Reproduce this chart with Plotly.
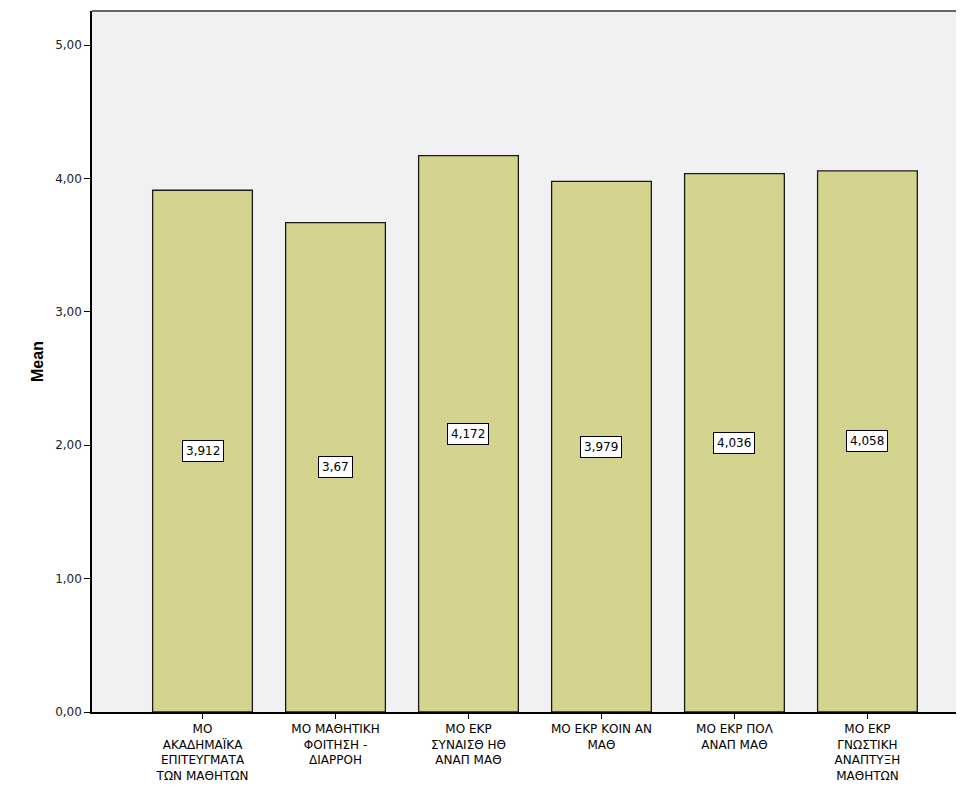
import plotly.graph_objects as go

categories = [
    "ΜΟ<br>ΑΚΑΔΗΜΑΪΚΑ<br>ΕΠΙΤΕΥΓΜΑΤΑ<br>ΤΩΝ ΜΑΘΗΤΩΝ",
    "ΜΟ ΜΑΘΗΤΙΚΗ<br>ΦΟΙΤΗΣΗ -<br>ΔΙΑΡΡΟΗ",
    "ΜΟ ΕΚΡ<br>ΣΥΝΑΙΣΘ ΗΘ<br>ΑΝΑΠ ΜΑΘ",
    "ΜΟ ΕΚΡ ΚΟΙΝ ΑΝ<br>ΜΑΘ",
    "ΜΟ ΕΚΡ ΠΟΛ<br>ΑΝΑΠ ΜΑΘ",
    "ΜΟ ΕΚΡ<br>ΓΝΩΣΤΙΚΗ<br>ΑΝΑΠΤΥΞΗ<br>ΜΑΘΗΤΩΝ",
]
means = [3.912, 3.67, 4.172, 3.979, 4.036, 4.058]
value_labels = ["3,912", "3,67", "4,172", "3,979", "4,036", "4,058"]
y_ticks = [0, 1, 2, 3, 4, 5]

FONT = "DejaVu Sans, Liberation Sans, Arial"

fig = go.Figure()
fig.add_trace(go.Bar(
    x=list(range(len(categories))),
    y=means,
    width=0.75,
    marker=dict(color="#d5d48f", line=dict(color="#1a1a1a", width=1.3)),
    hoverinfo="skip",
))

for i, (v, t) in enumerate(zip(means, value_labels)):
    fig.add_annotation(
        x=i, y=v / 2, text=t, showarrow=False,
        font=dict(family=FONT, size=12, color="#000"),
        bgcolor="white", bordercolor="#000", borderwidth=1, borderpad=3,
    )

fig.add_shape(type="line", xref="paper", yref="paper", x0=0, x1=1, y0=1, y1=1,
              line=dict(color="#666", width=2))

fig.update_layout(
    width=956, height=786,
    margin=dict(l=84, r=0, t=3, b=82),
    paper_bgcolor="white",
    plot_bgcolor="#f1f1f3",
    separators=",.",
    showlegend=False,
    font=dict(family=FONT, size=12, color="#000"),
    xaxis=dict(
        range=[-0.831, 5.726],
        tickmode="array",
        tickvals=list(range(len(categories))),
        ticktext=categories,
        showline=True, linecolor="#000", linewidth=1.5,
        ticks="outside", ticklen=5, tickcolor="#000",
        showgrid=False, zeroline=False,
        tickfont=dict(family=FONT, size=12),
    ),
    yaxis=dict(
        range=[0, 5.256],
        tickvals=y_ticks,
        tickformat=".2f",
        showline=True, linecolor="#000", linewidth=1.5,
        ticks="outside", ticklen=6, tickcolor="#000",
        showgrid=False, zeroline=False,
        tickfont=dict(family=FONT, size=12, color="#222"),
        title=dict(text="<b>Mean</b>", font=dict(family="Liberation Sans, Arial", size=16), standoff=8),
    ),
)

fig.write_html("out.html")
